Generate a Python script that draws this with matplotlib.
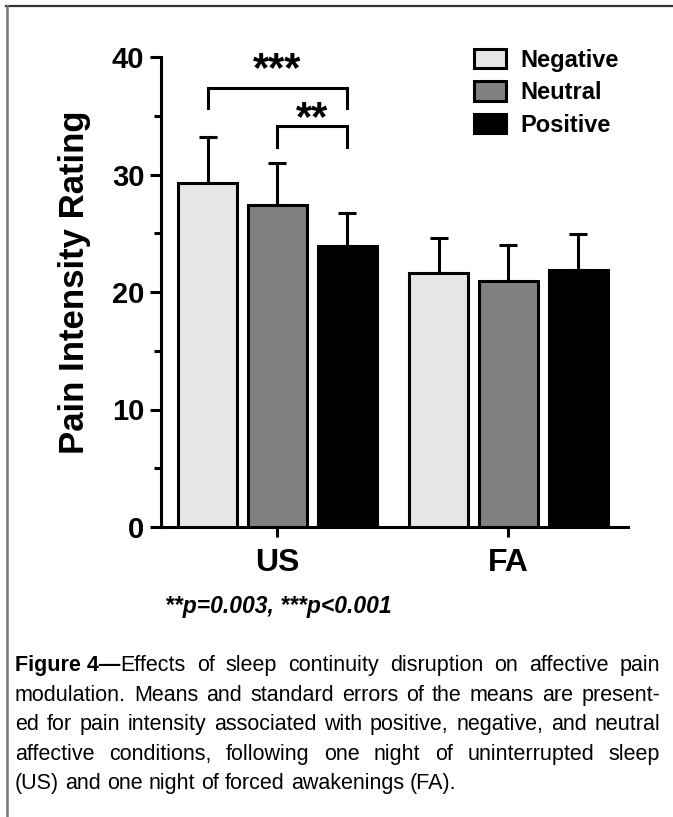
import matplotlib
matplotlib.use("Agg")
import matplotlib.pyplot as plt
from matplotlib.lines import Line2D
import numpy as np

# data
groups = ['US', 'FA']
conditions = ['Negative', 'Neutral', 'Positive']
means = {
    'Negative': [29.3, 21.6],
    'Neutral': [27.4, 20.9],
    'Positive': [23.9, 21.9],
}
sems = {
    'Negative': [3.9, 3.0],
    'Neutral': [3.6, 3.1],
    'Positive': [2.8, 3.05],
}
colors = {'Negative': '#e6e6e6', 'Neutral': '#808080', 'Positive': '#000000'}
yticks = [0, 10, 20, 30, 40]

# significance brackets within US: (cond_a, cond_b, top, leg bottom, star height, label)
brackets = [
    ('Negative', 'Positive', 37.4, 35.7, 40.05, '***'),
    ('Neutral', 'Positive', 34.1, 32.3, 35.85, '**'),
]

footnote = '**p=0.003, ***p<0.001'
caption_lines = [
    'Effects of sleep continuity disruption on affective pain',
    'modulation. Means and standard errors of the means are present-',
    'ed for pain intensity associated with positive, negative, and neutral',
    'affective conditions, following one night of uninterrupted sleep',
    '(US) and one night of forced awakenings (FA).',
]

W, H = 673, 817
fig = plt.figure(figsize=(W / 100, H / 100), dpi=100)
plt.rcParams['font.family'] = ['Liberation Sans', 'DejaVu Sans']

ax = fig.add_axes([161 / W, 1 - 527 / H, (628 - 161) / W, (527 - 57) / H])

x = np.arange(len(groups))
offset = 0.302
width = 0.255
lw = 2.2
for i, cond in enumerate(conditions):
    xs = x + (i - 1) * offset
    ax.bar(xs, means[cond], width, color=colors[cond], edgecolor='black',
           linewidth=lw, zorder=3, label=cond)
    ax.errorbar(xs, means[cond], yerr=[np.zeros(len(groups)), sems[cond]],
                fmt='none', ecolor='black', elinewidth=lw, capsize=6.5,
                capthick=lw, zorder=2)

# brackets
star_fs = 30
for a, b, top, low, sy, lab in brackets:
    xa = x[0] + (conditions.index(a) - 1) * offset
    xb = x[0] + (conditions.index(b) - 1) * offset
    ax.plot([xa, xa, xb, xb], [low, top, top, low], color='black', lw=lw,
            solid_joinstyle='miter', clip_on=False)
    ax.annotate(lab, xy=((xa + xb) / 2, sy), xytext=(0, -0.58 * star_fs),
                textcoords='offset points', ha='center', va='baseline',
                fontsize=star_fs, fontweight='bold', annotation_clip=False)

ax.set_xlim(-0.504, 1.518)
ax.set_ylim(0, 40)
ax.set_yticks(yticks)
ax.set_yticks([5, 15, 25, 35], minor=True)
ax.set_xticks(x)
ax.set_xticklabels(groups)
for s in ['top', 'right']:
    ax.spines[s].set_visible(False)
for s in ['left', 'bottom']:
    ax.spines[s].set_linewidth(lw)
ax.tick_params(axis='y', which='major', length=8, width=lw, pad=4,
               labelsize=21)
ax.tick_params(axis='y', which='minor', length=5, width=lw)
ax.tick_params(axis='x', length=7, width=lw, pad=8, labelsize=23)
for t in ax.get_yticklabels() + ax.get_xticklabels():
    t.set_fontweight('bold')
ax.set_ylabel('Pain Intensity Rating', fontsize=25, fontweight='bold')
ax.yaxis.set_label_coords(-0.15, 0.52)

leg = ax.legend(loc='upper left', bbox_to_anchor=(0.625, 1.063), frameon=False,
                prop={'size': 17, 'weight': 'bold'}, handlelength=1.36,
                handleheight=0.9, handletextpad=0.6, labelspacing=0.4)

# footnote
fig.text(165 / W, 1 - 607 / H, footnote, fontsize=16.5, fontweight='bold',
         style='italic', va='center', ha='left')

# caption, justified by hand
cap_font = dict(fontsize=15.5)
left_px, right_px = 15, 660
line_y = [671, 701, 730, 760, 789]  # baselines
fig.canvas.draw()
renderer = fig.canvas.get_renderer()
probe1 = fig.text(0, 0, 'a a', **cap_font)
probe2 = fig.text(0, 0, 'aa', **cap_font)
space_w = probe1.get_window_extent(renderer).width - probe2.get_window_extent(renderer).width
probe1.remove()
probe2.remove()
for li, line in enumerate(caption_lines):
    tokens = [[(w, 'normal')] for w in line.split(' ')]
    if li == 0:
        tokens[0] = [('Figure 4\u2014', 'bold'), (tokens[0][0][0], 'normal')]
    arts = []
    widths = []
    for tok in tokens:
        parts = []
        tw = 0
        for txt, wt in tok:
            t = fig.text(0, 1 - line_y[li] / H, txt, fontweight=wt,
                         va='baseline', ha='left', **cap_font)
            bw = t.get_window_extent(renderer).width
            parts.append((t, bw))
            tw += bw
        arts.append(parts)
        widths.append(tw)
    total = sum(widths)
    if li < len(caption_lines) - 1:
        gap = (right_px - left_px - total) / (len(tokens) - 1)
    else:
        gap = space_w
    xpos = left_px
    for parts, tw in zip(arts, widths):
        px = xpos
        for t, bw in parts:
            t.set_x(px / W)
            px += bw
        xpos += tw + gap

# frame lines
fig.add_artist(Line2D([6 / W, 1], [1 - 6 / H, 1 - 6 / H], color='#333333', lw=1.6))
fig.add_artist(Line2D([7 / W, 7 / W], [0, 1 - 6 / H], color='#777777', lw=1.8))

fig.savefig('out.png', dpi=100)
